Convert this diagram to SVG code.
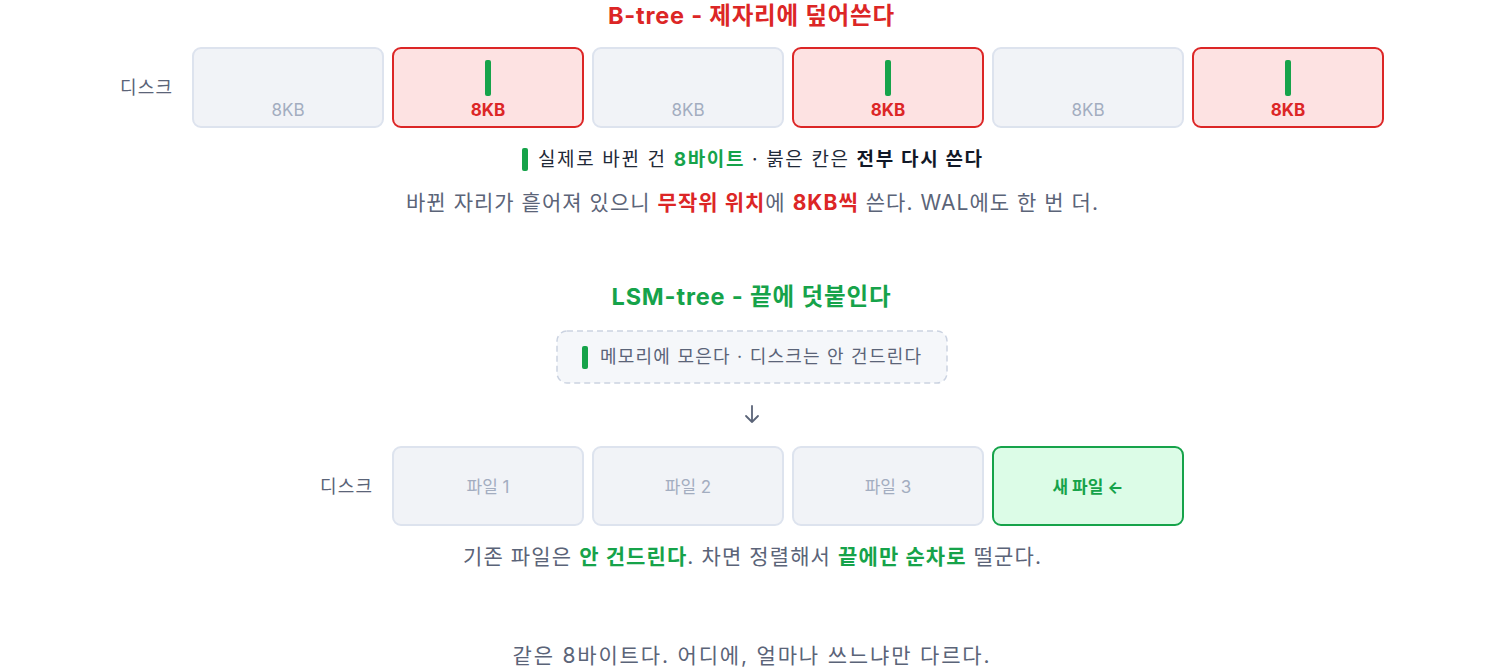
<svg xmlns="http://www.w3.org/2000/svg" width="1504" height="670" viewBox="0 0 1504 670">
<style>
text{font-family:"Inter","Noto Sans CJK KR","Noto Sans",sans-serif}
.cell{fill:#f1f3f7;stroke:#dde3ee;stroke-width:2}
.hot{fill:#fde2e2;stroke:#dc2626;stroke-width:2}
.new{fill:#dcfce7;stroke:#16a34a;stroke-width:2}
.lbl{font-size:17px;fill:#a3adc0;text-anchor:middle}
.lblhot{font-size:17px;fill:#dc2626;font-weight:700;text-anchor:middle}
.bar{fill:#16a34a}
.side{font-size:18px;fill:#5b6478;text-anchor:middle}
.title{font-size:23.5px;font-weight:700;text-anchor:middle}
.note{font-size:21px;fill:#5b6478;text-anchor:middle}
.r{fill:#dc2626;font-weight:700}
.g{fill:#16a34a;font-weight:700}
</style>
<g id="btree-title"><text class="title" x="751" y="24" fill="#dc2626" textLength="286" lengthAdjust="spacing">B-tree - 제자리에 덮어쓴다</text></g>
<g id="btree-disk-label"><text class="side" x="146" y="94" textLength="52" lengthAdjust="spacing">디스크</text></g>
<g id="btree-block-1"><rect class="cell" x="193" y="48" width="190" height="79" rx="8"/><text class="lbl" x="288" y="116">8KB</text></g>
<g id="btree-block-2"><rect class="hot" x="393" y="48" width="190" height="79" rx="8"/><rect class="bar" x="485" y="60" width="6" height="36" rx="2"/><text class="lblhot" x="488" y="116">8KB</text></g>
<g id="btree-block-3"><rect class="cell" x="593" y="48" width="190" height="79" rx="8"/><text class="lbl" x="688" y="116">8KB</text></g>
<g id="btree-block-4"><rect class="hot" x="793" y="48" width="190" height="79" rx="8"/><rect class="bar" x="885" y="60" width="6" height="36" rx="2"/><text class="lblhot" x="888" y="116">8KB</text></g>
<g id="btree-block-5"><rect class="cell" x="993" y="48" width="190" height="79" rx="8"/><text class="lbl" x="1088" y="116">8KB</text></g>
<g id="btree-block-6"><rect class="hot" x="1193" y="48" width="190" height="79" rx="8"/><rect class="bar" x="1285" y="60" width="6" height="36" rx="2"/><text class="lblhot" x="1288" y="116">8KB</text></g>
<g id="btree-legend">
<rect class="bar" x="522" y="148" width="6" height="23" rx="2"/>
<text x="538" y="166" font-size="19" fill="#1f2937" textLength="444" lengthAdjust="spacing">실제로 바뀐 건  <tspan class="g">8바이트</tspan>  · 붉은 칸은  <tspan font-weight="700" fill="#111827">전부 다시 쓴다</tspan></text>
</g>
<g id="btree-note"><text class="note" x="752" y="210" textLength="692" lengthAdjust="spacing">바뀐 자리가 흩어져 있으니 <tspan class="r">무작위 위치</tspan>에 <tspan class="r">8KB씩</tspan> 쓴다. WAL에도 한 번 더.</text></g>
<g id="lsm-title"><text class="title" x="751" y="305" fill="#16a34a" textLength="279" lengthAdjust="spacing">LSM-tree - 끝에 덧붙인다</text></g>
<g id="lsm-memory">
<rect x="557" y="331" width="390" height="52" rx="10" fill="#f5f7fa" stroke="#cbd3e1" stroke-width="1.5" stroke-dasharray="6 4"/>
<rect class="bar" x="582" y="346" width="6" height="23" rx="2"/>
<text x="600" y="363" font-size="18" fill="#5b6478" textLength="321" lengthAdjust="spacing">메모리에 모은다 · 디스크는 안 건드린다</text>
</g>
<g id="connectors">
<path d="M752 406 V422 M746 416 L752 422 L758 416" fill="none" stroke="#5b6478" stroke-width="1.8" stroke-linecap="round" stroke-linejoin="round"/>
</g>
<g id="lsm-disk-label"><text class="side" x="346" y="493" textLength="52" lengthAdjust="spacing">디스크</text></g>
<g id="lsm-file-1"><rect class="cell" x="393" y="447" width="190" height="78" rx="8"/><text class="lbl" x="488" y="493">파일 1</text></g>
<g id="lsm-file-2"><rect class="cell" x="593" y="447" width="190" height="78" rx="8"/><text class="lbl" x="688" y="493">파일 2</text></g>
<g id="lsm-file-3"><rect class="cell" x="793" y="447" width="190" height="78" rx="8"/><text class="lbl" x="888" y="493">파일 3</text></g>
<g id="lsm-new-file"><rect class="new" x="993" y="447" width="190" height="78" rx="8"/><text x="1088" y="493" font-size="17" font-weight="700" fill="#16a34a" text-anchor="middle">새 파일 ←</text></g>
<g id="lsm-note"><text class="note" x="752" y="564" textLength="578" lengthAdjust="spacing">기존 파일은 <tspan class="g">안 건드린다</tspan>. 차면 정렬해서 <tspan class="g">끝에만 순차로</tspan> 떨군다.</text></g>
<g id="summary"><text class="note" x="751" y="663" textLength="477" lengthAdjust="spacing">같은 8바이트다. 어디에, 얼마나 쓰느냐만 다르다.</text></g>
</svg>
